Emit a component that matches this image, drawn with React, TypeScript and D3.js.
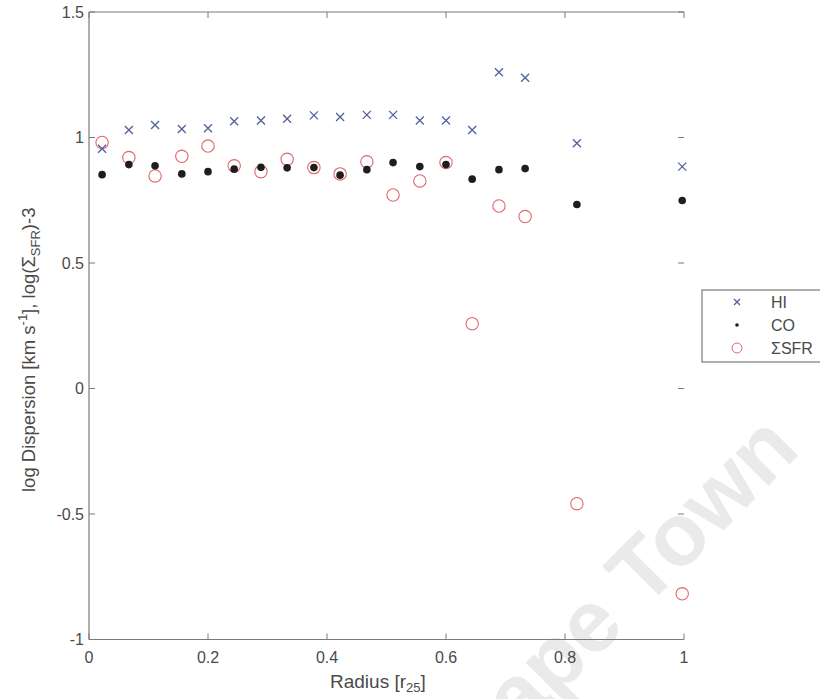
import React from "react";
import * as d3 from "d3";

// Radial bins (in units of r25)
const radius = [0.022, 0.067, 0.111, 0.156, 0.2, 0.244, 0.289, 0.333, 0.378, 0.422, 0.467, 0.511, 0.556, 0.6, 0.644, 0.689, 0.733, 0.82, 0.997];
// log velocity dispersion of HI [km/s]
const hiValues = [0.955, 1.03, 1.05, 1.034, 1.037, 1.065, 1.068, 1.075, 1.088, 1.082, 1.09, 1.09, 1.068, 1.068, 1.03, 1.26, 1.238, 0.977, 0.884];
// log velocity dispersion of CO [km/s]
const coValues = [0.852, 0.892, 0.887, 0.855, 0.864, 0.874, 0.881, 0.879, 0.88, 0.85, 0.872, 0.9, 0.884, 0.892, 0.834, 0.872, 0.876, 0.733, 0.749];
// log star-formation surface density, shifted by -3
const sfrValues = [0.98, 0.92, 0.847, 0.925, 0.966, 0.887, 0.864, 0.913, 0.88, 0.855, 0.903, 0.771, 0.827, 0.9, 0.258, 0.727, 0.685, -0.459, -0.818];

const xTicks = [0, 0.2, 0.4, 0.6, 0.8, 1];
const xTickLabels = ["0", "0.2", "0.4", "0.6", "0.8", "1"];
const yTicks = [-1, -0.5, 0, 0.5, 1, 1.5];
const yTickLabels = ["-1", "-0.5", "0", "0.5", "1", "1.5"];

const W = 820;
const H = 699;
const FONT = "'Liberation Sans', Arial, Helvetica, sans-serif";
const AXIS = "#7a7a7a";
const TEXT = "#4a4a4a";
const HI_COLOR = "#52609c";
const CO_COLOR = "#1e1e1e";
const SFR_COLOR = "#e0666a";

const x = d3.scaleLinear().domain([0, 1]).range([89, 684]);
const y = d3.scaleLinear().domain([-1, 1.5]).range([639.5, 12]);

function Cross({ cx, cy, s = 4, color }: { cx: number; cy: number; s?: number; color: string }) {
  const p = d3.path();
  p.moveTo(cx - s, cy - s);
  p.lineTo(cx + s, cy + s);
  p.moveTo(cx - s, cy + s);
  p.lineTo(cx + s, cy - s);
  return <path d={p.toString()} stroke={color} strokeWidth={1.3} fill="none" />;
}

export default function App() {
  const [x0, x1] = x.range();
  const [yb, yt] = y.range();
  const tickLen = 6;

  return (
    <svg width={W} height={H} viewBox={`0 0 ${W} ${H}`} style={{ display: "block", position: "absolute", left: 0, top: 0, background: "#fff" }}>
      <rect width={W} height={H} fill="#fff" />

      {/* watermark */}
      <text
        transform="translate(802,452) rotate(-45)"
        textAnchor="end"
        fontFamily={FONT}
        fontWeight="bold"
        fontSize={88}
        fill="#eaeaea"
      >
        Cape Town
      </text>

      {/* axes frame: left, bottom, top */}
      <line x1={x0} x2={x0} y1={yt} y2={yb} stroke={AXIS} strokeWidth={1.2} />
      <line x1={x0} x2={x1} y1={yb} y2={yb} stroke={AXIS} strokeWidth={1.2} />
      <line x1={x0} x2={x1} y1={yt} y2={yt} stroke={AXIS} strokeWidth={1.2} />

      {/* x ticks */}
      {xTicks.map((t, i) => (
        <g key={`xt${i}`}>
          <line x1={x(t)} x2={x(t)} y1={yb} y2={yb - tickLen} stroke={AXIS} strokeWidth={1} />
          <line x1={x(t)} x2={x(t)} y1={yt} y2={yt + tickLen} stroke={AXIS} strokeWidth={1} />
          <text x={x(t)} y={yb + 23} textAnchor="middle" fontFamily={FONT} fontSize={16} fill={TEXT}>
            {xTickLabels[i]}
          </text>
        </g>
      ))}

      {/* y ticks */}
      {yTicks.map((t, i) => (
        <g key={`yt${i}`}>
          <line x1={x0} x2={x0 + tickLen} y1={y(t)} y2={y(t)} stroke={AXIS} strokeWidth={1} />
          <line x1={x1} x2={x1 - tickLen} y1={y(t)} y2={y(t)} stroke={AXIS} strokeWidth={1} />
          <text x={x0 - 5} y={y(t) + 5.5} textAnchor="end" fontFamily={FONT} fontSize={16} fill={TEXT}>
            {yTickLabels[i]}
          </text>
        </g>
      ))}

      {/* axis titles */}
      <text x={330} y={688} textAnchor="start" fontFamily={FONT} fontSize={19} fill={TEXT}>
        Radius [r<tspan fontSize={13} dy={4}>25</tspan><tspan dy={-4}>]</tspan>
      </text>
      <text transform="translate(35,492) rotate(-90)" textAnchor="start" fontFamily={FONT} fontSize={18.5} fill={TEXT}>
        log Dispersion [km s<tspan fontSize={13} dy={-8}>-1</tspan>
        <tspan dy={8}>], log(Σ</tspan>
        <tspan fontSize={13} dy={5}>SFR</tspan>
        <tspan dy={-5}>)-3</tspan>
      </text>

      {/* data: SFR circles */}
      {radius.map((r, i) => (
        <circle key={`s${i}`} cx={x(r)} cy={y(sfrValues[i])} r={6.2} fill="none" stroke={SFR_COLOR} strokeWidth={1.1} />
      ))}
      {/* data: CO dots */}
      {radius.map((r, i) => (
        <circle key={`c${i}`} cx={x(r)} cy={y(coValues[i])} r={3.8} fill={CO_COLOR} />
      ))}
      {/* data: HI crosses */}
      {radius.map((r, i) => (
        <Cross key={`h${i}`} cx={x(r)} cy={y(hiValues[i])} color={HI_COLOR} />
      ))}

      {/* legend */}
      <g>
        <rect x={702} y={290} width={140} height={72} fill="#fff" stroke={AXIS} strokeWidth={1.2} />
        <Cross cx={737} cy={302} s={3} color={HI_COLOR} />
        <circle cx={737} cy={325} r={1.8} fill={CO_COLOR} />
        <circle cx={737} cy={348} r={5} fill="none" stroke={SFR_COLOR} strokeWidth={1} />
        <text x={771} y={308} fontFamily={FONT} fontSize={16} fill={TEXT}>HI</text>
        <text x={771} y={331} fontFamily={FONT} fontSize={16} fill={TEXT}>CO</text>
        <text x={771} y={354} fontFamily={FONT} fontSize={16} fill={TEXT}>ΣSFR</text>
      </g>
    </svg>
  );
}
